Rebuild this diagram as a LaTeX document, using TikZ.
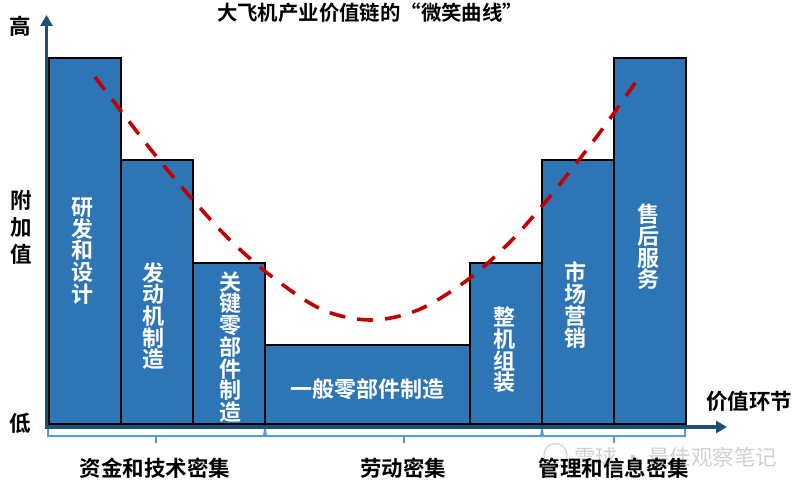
\documentclass[tikz,border=0pt]{standalone}
\usepackage{fontspec}
\setmainfont{Noto Sans CJK SC}[BoldFont={Noto Sans CJK SC Bold}]
\usetikzlibrary{arrows.meta}
\definecolor{barblue}{HTML}{2E75B6}
\definecolor{axisblue}{HTML}{1F4E79}
\definecolor{bracket}{HTML}{5B9BD5}
\definecolor{curvered}{HTML}{C00000}
\lineskiplimit=-100pt
\tikzset{
  bar/.style={draw=black,line width=2bp,fill=barblue,anchor=south west,inner sep=0pt,outer sep=0pt,minimum width=72bp},
  bartext/.style={text=white,font=\bfseries\fontsize{22bp}{21.7bp}\selectfont,align=center,inner sep=0pt},
  label/.style={text=black,font=\bfseries\fontsize{21.5bp}{24bp}\selectfont,inner sep=0pt,align=center},
  axis/.style={axisblue,line width=3.4bp,-{Triangle[length=11bp,width=12bp]}},
  brk/.style={bracket,line width=2bp},
  smile/.style={curvered,line width=3.6bp,dash pattern=on 16bp off 12bp}
}
\begin{document}
\begin{tikzpicture}[x=1bp,y=-1bp]
\useasboundingbox (0,0) rectangle (800,483);
% bars
\node[bar,minimum height=366bp] (b1) at (49,424) {};
\node[bar,minimum height=264bp] (b2) at (121,424) {};
\node[bar,minimum height=161bp] (b3) at (193,424) {};
\node[bar,minimum height=79bp,minimum width=205bp] (b4) at (265,424) {};
\node[bar,minimum height=161bp] (b5) at (470,424) {};
\node[bar,minimum height=264bp] (b6) at (542,424) {};
\node[bar,minimum height=366bp] (b7) at (614,424) {};
% bar texts
\node[bartext] (t1) at (82,251) {研\\发\\和\\设\\计};
\node[bartext] (t2) at (153,316) {发\\动\\机\\制\\造};
\node[bartext] (t3) at (230,347) {关\\键\\零\\部\\件\\制\\造};
\node[bartext] (t4) at (367,389) {一般零部件制造};
\node[bartext] (t5) at (504,350) {整\\机\\组\\装};
\node[bartext] (t6) at (575,305) {市\\场\\营\\销};
\node[bartext] (t7) at (648,247) {售\\后\\服\\务};
% smile curve
\draw[smile] plot[smooth,tension=0.55] coordinates {(95,77) (121,111) (156,156) (193,200) (232,242) (275,279) (323,310) (371,320) (418,310) (466,281) (509,243) (547,200) (582,156) (609,120) (640,76)};
% axes
\coordinate (o) at (46.5,427);
\coordinate (ytop) at (46.5,15);
\coordinate (xend) at (727,427);
\coordinate (xstart) at (44.8,427);
\draw[axis] (o) -- (ytop);
\draw[axis] (xstart) -- (xend);
% brackets
\coordinate (a0) at (48,429);
\coordinate (a1) at (265,429);
\coordinate (a2) at (542,429);
\coordinate (a3) at (685,429);
\draw[brk] (a0) -- (48,436) -- (264,436) -- (a1);
\draw[brk] (a1) -- (266,436) -- (541,436) -- (a2);
\draw[brk] (a2) -- (543,436) -- (685,436) -- (a3);
\draw[brk] (156,436) -- (156,443);
\draw[brk] (403.5,436) -- (403.5,443);
\draw[brk] (613.5,436) -- (613.5,443);
% watermark
\node[text=black!18,font=\fontsize{21.5bp}{24bp}\selectfont,inner sep=0pt,anchor=west] (wm) at (574,457) {雪球 · 最佳观察笔记};
\draw[black!18,line width=1.2bp] (555.5,455) circle (11.5bp);
% labels
\node[font=\bfseries\fontsize{20.4bp}{24bp}\selectfont,inner sep=0pt] (title) at (370,13) {大飞机产业价值链的“微笑曲线”};
\node[label] (high) at (20,26) {高};
\node[label,font=\bfseries\fontsize{21.5bp}{27bp}\selectfont] (val) at (21,227) {附\\加\\值};
\node[label] (low) at (20,423) {低};
\node[label] (xl) at (749,401) {价值环节};
\node[label] (g1) at (155,468) {资金和技术密集};
\node[label] (g2) at (403,468) {劳动密集};
\node[label] (g3) at (614,468) {管理和信息密集};
\end{tikzpicture}
\end{document}
